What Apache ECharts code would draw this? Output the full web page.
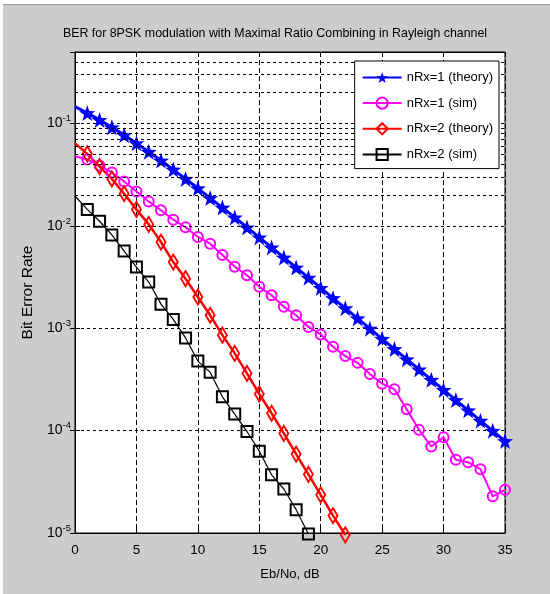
<!DOCTYPE html>
<html>
<head>
<meta charset="utf-8">
<script src="https://cdn.jsdelivr.net/npm/echarts@6/dist/echarts.min.js"></script>
<style>
html, body { margin: 0; padding: 0; background: #cccccc; }
#main { width: 550px; height: 594px; }
</style>
</head>
<body>
<div id="main"></div>
<script>
// Eb/No axis (dB)
var ebNo = [0,1,2,3,4,5,6,7,8,9,10,11,12,13,14,15,16,17,18,19,20,21,22,23,24,25,26,27,28,29,30,31,32,33,34,35];

var ber1Theory = [0.1464,0.1267,0.1085,0.0919,0.0771,0.0642,0.0530,0.0435,0.0355,0.0288,0.0233,0.0187,0.0151,0.0121,0.00966,0.00772,0.00616,0.00491,0.00392,0.00312,0.00248,0.00197,0.00157,0.00125,0.000991,0.000788,0.000626,0.000498,0.000396,0.000314,0.000250,0.000199,0.000158,0.000125,0.0000995,0.0000790];
var ber1Sim = [0.048,0.0445,0.0389,0.0333,0.0272,0.0217,0.0173,0.0142,0.0115,0.0097,0.0078,0.0067,0.0052,0.0040,0.0033,0.00254,0.0021,0.00162,0.00134,0.00103,0.00087,0.00066,0.000535,0.00046,0.000357,0.000287,0.000254,0.000162,0.000102,0.000070,0.000086,0.000052,0.000049,0.000042,0.0000228,0.0000264];
var ber2Theory = [0.064,0.0506,0.038,0.0288,0.0206,0.0145,0.01035,0.00695,0.00443,0.00305,0.00202,0.00134,0.000857,0.000568,0.000362,0.000228,0.000148,0.000094,0.000059,0.0000374,0.0000236,0.0000148,0.0000096];
var ber2Sim = [0.0196,0.0145,0.0111,0.00817,0.00568,0.00396,0.00283,0.00172,0.00122,0.000805,0.000478,0.000371,0.000214,0.000145,0.000098,0.000063,0.000037,0.0000269,0.0000169,0.0000098];

var names = ['nRx=1 (theory)', 'nRx=1 (sim)', 'nRx=2 (theory)', 'nRx=2 (sim)'];

// minor log grid lines 2..9 x 10^k
var minorGrid = [];
for (var k = -5; k <= -1; k++) {
	for (var m = 2; m <= 9; m++) {
		var v = m * Math.pow(10, k);
		if (v < 0.5) minorGrid.push({ yAxis: v });
	}
}

var starPath = 'path://M0,-10L2.35,-3.24L9.51,-3.09L3.8,1.24L5.88,8.09L0,4L-5.88,8.09L-3.8,1.24L-9.51,-3.09L-2.35,-3.24Z';
var txtFont = '"Liberation Sans", Arial, Helvetica, sans-serif';

// first point sits on the left border, no marker there (like the original)
function pairs(arr) {
	var out = [];
	for (var i = 0; i < arr.length; i++) {
		if (i == 0) {
			out.push({ value: [ebNo[i], arr[i]], symbol: 'none' });
		} else {
			out.push([ebNo[i], arr[i]]);
		}
	}
	return out;
}

function yLabel(val) {
	var e = Math.round(Math.log(val) / Math.LN10);
	if (Math.abs(val - Math.pow(10, e)) / val > 1e-6) return '';
	return '{b|10}{e|' + e + '}';
}

var myChart = echarts.init(document.getElementById('main'), null, { renderer: 'canvas' });
var option = {
	backgroundColor: '#cccccc',
	animation: false,
	textStyle: { fontFamily: txtFont, color: '#000' },
	title: {
		text: 'BER for 8PSK modulation with Maximal Ratio Combining in Rayleigh channel',
		left: 'center',
		top: 23,
		textStyle: { fontFamily: txtFont, fontSize: 12.4, fontWeight: 'normal', color: '#000' }
	},
	graphic: [
		{ type: 'rect', shape: { x: 0, y: 0, width: 550, height: 4 }, style: { fill: '#ffffff' } },
		{ type: 'rect', shape: { x: 0, y: 0, width: 3, height: 594 }, style: { fill: '#ffffff' } },
		{ type: 'line', shape: { x1: 3, y1: 4.5, x2: 550, y2: 4.5 }, style: { stroke: '#9a9a9a', lineWidth: 1 } }
	],
	legend: {
		data: names,
		z: 20,
		orient: 'vertical',
		right: 51,
		top: 61,
		itemWidth: 39,
		itemHeight: 14,
		itemGap: 12.5,
		padding: [10, 6, 7.5, 7],
		backgroundColor: '#fff',
		borderColor: '#000',
		borderWidth: 1,
		borderRadius: 0,
		textStyle: { fontFamily: txtFont, fontSize: 13, color: '#000' }
	},
	grid: {
		left: 75,
		right: 45,
		top: 52,
		bottom: 61,
		show: true,
		backgroundColor: '#fff',
		borderColor: '#000',
		borderWidth: 1
	},
	xAxis: [{
		type: 'value',
		min: 0,
		max: 35,
		interval: 5,
		name: 'Eb/No, dB',
		nameLocation: 'middle',
		nameGap: 35,
		nameTextStyle: { fontFamily: txtFont, fontSize: 13, color: '#000' },
		axisLine: { lineStyle: { color: '#000' } },
		axisTick: { inside: true, length: 5, lineStyle: { color: '#000' } },
		axisLabel: { margin: 10, fontFamily: txtFont, fontSize: 13.5, color: '#000' },
		splitLine: { show: true, lineStyle: { color: '#000', type: [5, 3], width: 1 } }
	}, {
		type: 'value',
		position: 'top',
		min: 0,
		max: 35,
		interval: 5,
		axisLine: { lineStyle: { color: '#000' } },
		axisTick: { inside: true, length: 5, lineStyle: { color: '#000' } },
		axisLabel: { show: false },
		splitLine: { show: false }
	}],
	yAxis: [{
		type: 'log',
		logBase: 10,
		min: 0.00001,
		max: 0.5,
		name: 'Bit Error Rate',
		nameLocation: 'middle',
		nameGap: 29,
		nameTextStyle: { fontFamily: txtFont, fontSize: 15.5, color: '#000' },
		axisLine: { lineStyle: { color: '#000' } },
		axisTick: { inside: true, length: 5, lineStyle: { color: '#000' } },
		axisLabel: {
			margin: 4,
			formatter: yLabel,
			rich: {
				b: { fontFamily: txtFont, fontSize: 14, color: '#000' },
				e: { fontFamily: txtFont, fontSize: 9.5, color: '#000', verticalAlign: 'bottom', padding: [0, 0, 10, 0] }
			}
		},
		splitLine: { show: true, lineStyle: { color: '#000', type: [3, 3], width: 1 } }
	}, {
		type: 'log',
		logBase: 10,
		min: 0.00001,
		max: 0.5,
		position: 'right',
		axisLine: { lineStyle: { color: '#000' } },
		axisTick: { inside: true, length: 5, lineStyle: { color: '#000' } },
		axisLabel: { show: false },
		splitLine: { show: false }
	}],
	series: [{
		name: 'minor grid',
		type: 'line',
		data: [],
		silent: true,
		z: 1,
		markLine: {
			silent: true,
			symbol: ['none', 'none'],
			label: { show: false },
			lineStyle: { color: '#000', type: [3, 3], width: 1 },
			animation: false,
			data: minorGrid
		}
	}, {
		name: names[0],
		type: 'line',
		data: pairs(ber1Theory),
		clip: false,
		symbol: starPath,
		symbolSize: 16,
		lineStyle: { color: '#0000ff', width: 3 },
		itemStyle: { color: '#0000ff' }
	}, {
		name: names[1],
		type: 'line',
		data: pairs(ber1Sim),
		clip: false,
		symbol: 'circle',
		symbolSize: 10,
		lineStyle: { color: '#ff00ff', width: 2 },
		itemStyle: { color: 'rgba(0,0,0,0)', borderColor: '#ff00ff', borderWidth: 2 }
	}, {
		name: names[2],
		type: 'line',
		data: pairs(ber2Theory),
		clip: false,
		symbol: 'diamond',
		symbolSize: [9, 15],
		lineStyle: { color: '#ff0000', width: 2.5 },
		itemStyle: { color: 'rgba(0,0,0,0)', borderColor: '#ff0000', borderWidth: 2 }
	}, {
		name: names[3],
		type: 'line',
		data: pairs(ber2Sim),
		clip: false,
		symbol: 'rect',
		symbolSize: 11,
		lineStyle: { color: '#000000', width: 1.2 },
		itemStyle: { color: 'rgba(0,0,0,0)', borderColor: '#000000', borderWidth: 2 }
	}]
};
myChart.setOption(option);
</script>
</body>
</html>
